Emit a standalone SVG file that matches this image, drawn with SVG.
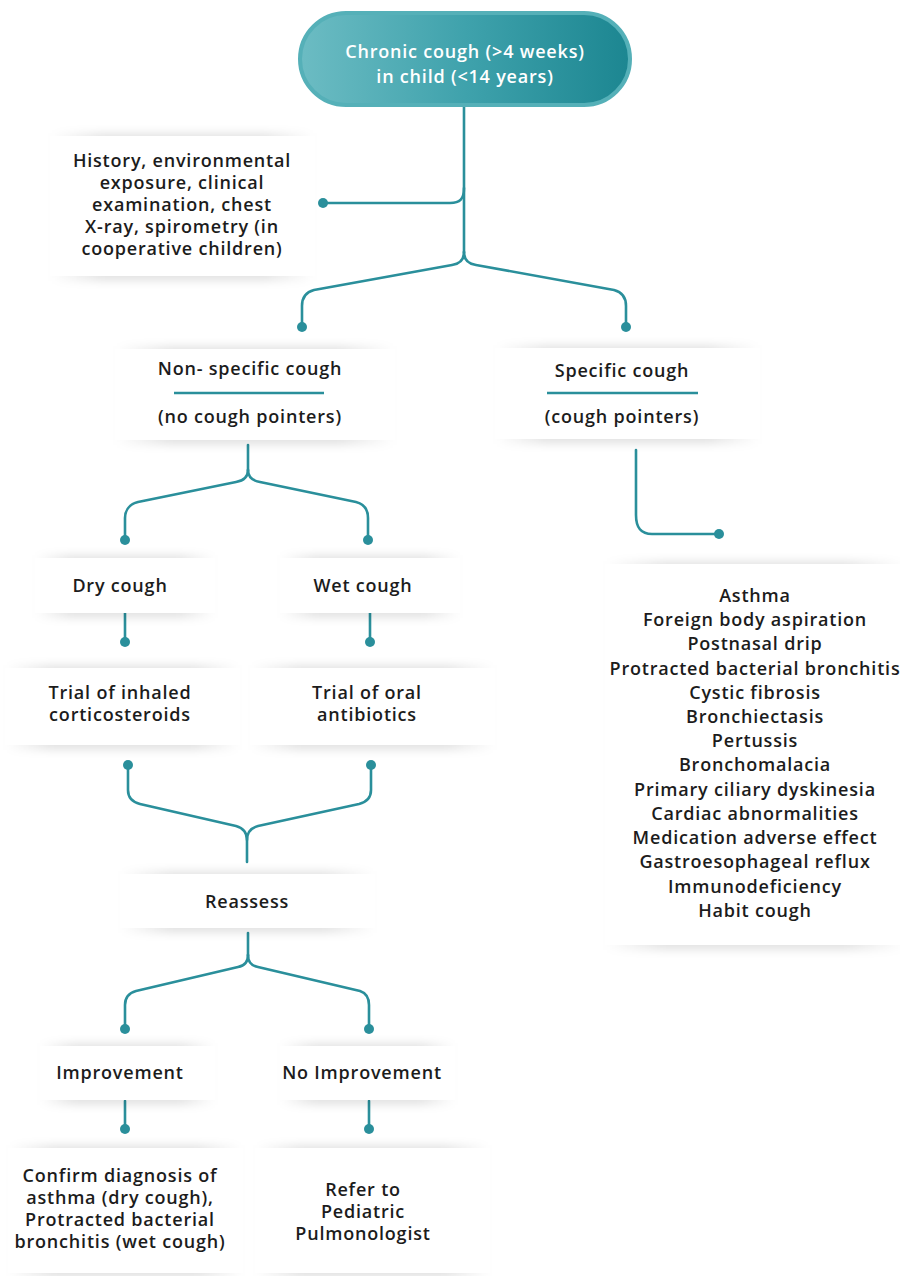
<svg xmlns="http://www.w3.org/2000/svg" width="900" height="1276" viewBox="0 0 900 1276">
<style>
.t{font-family:"Open Sans","Liberation Sans",sans-serif;font-weight:600;font-size:18px;letter-spacing:0.8px;fill:#1c1c1c;text-anchor:middle}
.w{fill:#ffffff}
.c{fill:none;stroke:#2a8f9b;stroke-width:2.6;stroke-linecap:round;stroke-linejoin:round}
.d{fill:#2a8f9b}
.shd{fill:url(#hfade);filter:url(#blur)}
.card{fill:#ffffff}
</style>
<defs>
<linearGradient id="hfade" x1="0" x2="1" y1="0" y2="0">
<stop offset="0" stop-color="#000" stop-opacity="0"/>
<stop offset="0.2" stop-color="#000" stop-opacity="0.11"/>
<stop offset="0.8" stop-color="#000" stop-opacity="0.11"/>
<stop offset="1" stop-color="#000" stop-opacity="0"/>
</linearGradient>
<linearGradient id="pill" x1="0" x2="1" y1="0" y2="0">
<stop offset="0" stop-color="#6cbcc3"/>
<stop offset="0.5" stop-color="#3fa2ac"/>
<stop offset="1" stop-color="#1c8691"/>
</linearGradient>
<filter id="blur" x="-10%" y="-30%" width="120%" height="160%"><feGaussianBlur stdDeviation="4"/></filter>
</defs>
<rect width="900" height="1276" fill="#ffffff"/>

<g id="connectors">
<path class="c" d="M464 106 V252"/>
<path class="c" d="M464 188 C464 199 460 203 450 203 H323"/>
<path class="c" d="M464 252 C464 260 459 264 452 265 L314 290 C306 292 302 298 302 306 V327"/>
<path class="c" d="M464 252 C464 260 469 264 476 265 L614 290 C622 292 626 298 626 306 V327"/>
<path class="c" d="M248 445 V470"/>
<path class="c" d="M248 470 C248 478 242 481 236 482 L138 502 C130 504 125 510 125 518 V540"/>
<path class="c" d="M248 470 C248 478 254 481 260 482 L356 502 C364 504 368 510 368 518 V540"/>
<path class="c" d="M636 450 V515 C636 528 641 534 652 534 H719"/>
<path class="c" d="M125 613 V642"/>
<path class="c" d="M370 613 V642"/>
<path class="c" d="M128 765 V790 C128 798 132 802 140 804 L236 826 C243 828 247 833 247 840 V862"/>
<path class="c" d="M371 765 V790 C371 798 367 802 359 804 L258 826 C251 828 247 833 247 840"/>
<path class="c" d="M248 933 V955"/>
<path class="c" d="M248 955 C248 962 244 966 238 967 L136 991 C129 993 125 998 125 1005 V1029"/>
<path class="c" d="M248 955 C248 962 252 966 258 967 L360 991 C366 993 369 998 369 1005 V1029"/>
<path class="c" d="M125 1101 V1129"/>
<path class="c" d="M369 1101 V1129"/>
<circle class="d" cx="323" cy="203" r="5"/>
<circle class="d" cx="302" cy="327" r="5"/>
<circle class="d" cx="626" cy="327" r="5"/>
<circle class="d" cx="125" cy="540" r="5"/>
<circle class="d" cx="368" cy="540" r="5"/>
<circle class="d" cx="719" cy="534" r="5"/>
<circle class="d" cx="125" cy="642" r="5"/>
<circle class="d" cx="370" cy="642" r="5"/>
<circle class="d" cx="128" cy="765" r="5"/>
<circle class="d" cx="371" cy="765" r="5"/>
<circle class="d" cx="125" cy="1029" r="5"/>
<circle class="d" cx="369" cy="1029" r="5"/>
<circle class="d" cx="125" cy="1129" r="5"/>
<circle class="d" cx="369" cy="1129" r="5"/>
</g>

<g id="start">
<rect x="300" y="13" width="330" height="92" rx="46" fill="url(#pill)" stroke="#55b0b8" stroke-width="4"/>
<text class="t w" x="465" y="58">Chronic cough (&gt;4 weeks)</text>
<text class="t w" x="465" y="83">in child (&lt;14 years)</text>
</g>

<g id="history">
<rect class="shd" x="50" y="133" width="265" height="148"/>
<rect class="card" x="50" y="136" width="265" height="140"/>
<text class="t" x="182" y="167">History, environmental</text>
<text class="t" x="182" y="189">exposure, clinical</text>
<text class="t" x="182" y="211">examination, chest</text>
<text class="t" x="182" y="233">X-ray, spirometry (in</text>
<text class="t" x="182" y="255">cooperative children)</text>
</g>

<g id="nonspecific">
<rect class="shd" x="115" y="346" width="280" height="99"/>
<rect class="card" x="115" y="349" width="280" height="91"/>
<text class="t" x="250" y="375">Non- specific cough</text>
<line x1="174" y1="393" x2="324" y2="393" stroke="#2a8f9b" stroke-width="2.6"/>
<text class="t" x="250" y="423">(no cough pointers)</text>
</g>

<g id="specific">
<rect class="shd" x="495" y="345" width="265" height="99"/>
<rect class="card" x="495" y="348" width="265" height="91"/>
<text class="t" x="622" y="377">Specific cough</text>
<line x1="547" y1="393" x2="698" y2="393" stroke="#2a8f9b" stroke-width="2.6"/>
<text class="t" x="622" y="423">(cough pointers)</text>
</g>

<g id="causes">
<rect class="shd" x="605" y="561" width="300" height="389"/>
<rect class="card" x="605" y="564" width="300" height="381"/>
<text class="t" x="755" y="602">Asthma</text>
<text class="t" x="755" y="626">Foreign body aspiration</text>
<text class="t" x="755" y="650">Postnasal drip</text>
<text class="t" x="755" y="675">Protracted bacterial bronchitis</text>
<text class="t" x="755" y="699">Cystic fibrosis</text>
<text class="t" x="755" y="723">Bronchiectasis</text>
<text class="t" x="755" y="747">Pertussis</text>
<text class="t" x="755" y="771">Bronchomalacia</text>
<text class="t" x="755" y="796">Primary ciliary dyskinesia</text>
<text class="t" x="755" y="820">Cardiac abnormalities</text>
<text class="t" x="755" y="844">Medication adverse effect</text>
<text class="t" x="755" y="868">Gastroesophageal reflux</text>
<text class="t" x="755" y="893">Immunodeficiency</text>
<text class="t" x="755" y="917">Habit cough</text>
</g>

<g id="dry">
<rect class="shd" x="35" y="555" width="180" height="63"/>
<rect class="card" x="35" y="558" width="180" height="55"/>
<text class="t" x="120" y="592">Dry cough</text>
</g>

<g id="wet">
<rect class="shd" x="280" y="555" width="180" height="63"/>
<rect class="card" x="280" y="558" width="180" height="55"/>
<text class="t" x="363" y="592">Wet cough</text>
</g>

<g id="ics">
<rect class="shd" x="5" y="665" width="235" height="85"/>
<rect class="card" x="5" y="668" width="235" height="77"/>
<text class="t" x="120" y="699">Trial of inhaled</text>
<text class="t" x="120" y="721">corticosteroids</text>
</g>

<g id="antibiotics">
<rect class="shd" x="250" y="665" width="245" height="85"/>
<rect class="card" x="250" y="668" width="245" height="77"/>
<text class="t" x="367" y="699">Trial of oral</text>
<text class="t" x="367" y="721">antibiotics</text>
</g>

<g id="reassess">
<rect class="shd" x="120" y="871" width="255" height="62"/>
<rect class="card" x="120" y="874" width="255" height="54"/>
<text class="t" x="247" y="908">Reassess</text>
</g>

<g id="improvement">
<rect class="shd" x="40" y="1043" width="175" height="62"/>
<rect class="card" x="40" y="1046" width="175" height="54"/>
<text class="t" x="120" y="1079">Improvement</text>
</g>

<g id="noimprovement">
<rect class="shd" x="280" y="1043" width="175" height="62"/>
<rect class="card" x="280" y="1046" width="175" height="54"/>
<text class="t" x="362" y="1079">No Improvement</text>
</g>

<g id="confirm">
<rect class="shd" x="8" y="1145" width="235" height="133"/>
<rect class="card" x="8" y="1148" width="235" height="125"/>
<text class="t" x="120" y="1182">Confirm diagnosis of</text>
<text class="t" x="120" y="1204">asthma (dry cough),</text>
<text class="t" x="120" y="1226">Protracted bacterial</text>
<text class="t" x="120" y="1248">bronchitis (wet cough)</text>
</g>

<g id="refer">
<rect class="shd" x="255" y="1145" width="235" height="133"/>
<rect class="card" x="255" y="1148" width="235" height="125"/>
<text class="t" x="363" y="1196">Refer to</text>
<text class="t" x="363" y="1218">Pediatric</text>
<text class="t" x="363" y="1240">Pulmonologist</text>
</g>
</svg>
